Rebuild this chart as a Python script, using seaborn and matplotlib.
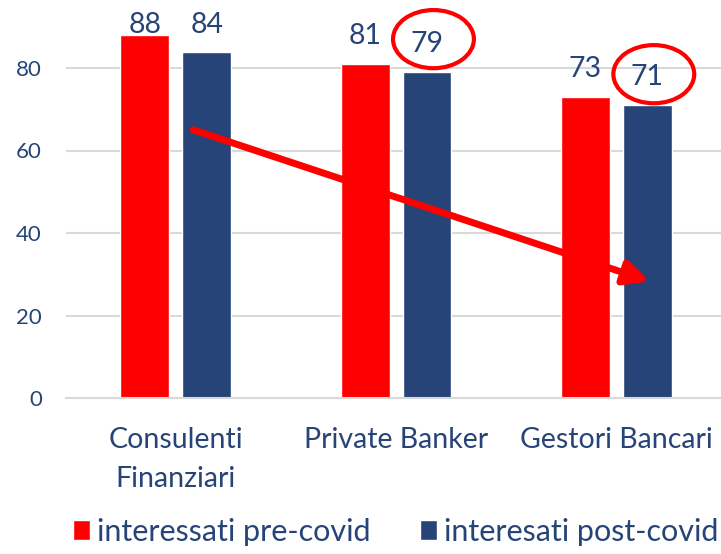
import matplotlib
matplotlib.use("Agg")
import matplotlib.pyplot as plt
from matplotlib.patches import Ellipse, Patch
import pandas as pd
import seaborn as sns

# data
categories = ["Consulenti\nFinanziari", "Private Banker", "Gestori Bancari"]
series = ["interessati pre-covid", "interesati post-covid"]
pre_covid = [88, 81, 73]
post_covid = [84, 79, 71]
y_ticks = [0, 20, 40, 60, 80]

# highlighted labels (circled) and the trend arrow, in data units
circled = [(1.17, 87.0), (2.17, 78.5)]
arrow_start = (0.08, 65.0)
arrow_end = (2.15, 28.3)

RED = "#FF0000"
BLUE = "#264478"
TEXT = "#264478"
GRID = "#D9D9D9"

sns.set_style("white")
plt.rcParams["font.family"] = ["Lato", "DejaVu Sans"]

df = pd.DataFrame({
    "categoria": categories * 2,
    "serie": [series[0]] * 3 + [series[1]] * 3,
    "valore": pre_covid + post_covid,
})

fig = plt.figure(figsize=(7.21, 5.54), dpi=100)
ax = fig.add_axes([65.5 / 721, 156 / 554, (721 - 65.5) / 721, (398 - 26.75) / 554])

sns.barplot(data=df, x="categoria", y="valore", hue="serie",
            palette=[RED, BLUE], width=0.562, gap=0.21, ax=ax,
            legend=False, saturation=1)

ax.set_xlim(-0.5, 2.475)
ax.set_ylim(0, 90)
ax.set_yticks(y_ticks)
ax.set_xlabel("")
ax.set_ylabel("")
ax.yaxis.grid(True, color=GRID, linewidth=1.5)
ax.set_axisbelow(True)
for s in ["top", "right", "left"]:
    ax.spines[s].set_visible(False)
ax.spines["bottom"].set_color(GRID)
ax.spines["bottom"].set_linewidth(1.5)
ax.tick_params(axis="y", length=0, pad=17, labelsize=16, labelcolor=TEXT)
ax.tick_params(axis="x", length=0, pad=21, labelsize=20.5, labelcolor=TEXT)
for lab in ax.get_xticklabels():
    lab.set_linespacing(1.6)

# value labels above bars (top ones kept inside the chart area)
for cont in ax.containers:
    for bar in cont:
        v = bar.get_height()
        ax.text(bar.get_x() + bar.get_width() / 2, min(v + 4.85, 88.5),
                f"{v:.0f}", ha="center", va="baseline", fontsize=20.5,
                color=TEXT, clip_on=False)

for cx, cy in circled:
    ax.add_patch(Ellipse((cx, cy), 0.367, 14.1, fill=False, edgecolor=RED,
                         linewidth=3, clip_on=False))

ax.annotate("", xy=arrow_end, xytext=arrow_start,
            arrowprops=dict(arrowstyle="-|>", color=RED, lw=5,
                            mutation_scale=36, shrinkA=0, shrinkB=0))

handles = [Patch(facecolor=RED), Patch(facecolor=BLUE)]
fig.legend(handles, series, loc="lower center",
           bbox_to_anchor=((65.5 + 726) / 2 / 721, -0.035), ncol=2, frameon=False,
           fontsize=22, labelcolor=TEXT, handlelength=0.55, handleheight=0.65,
           handletextpad=0.25, columnspacing=1.6)

fig.savefig("out.png", dpi=100)
